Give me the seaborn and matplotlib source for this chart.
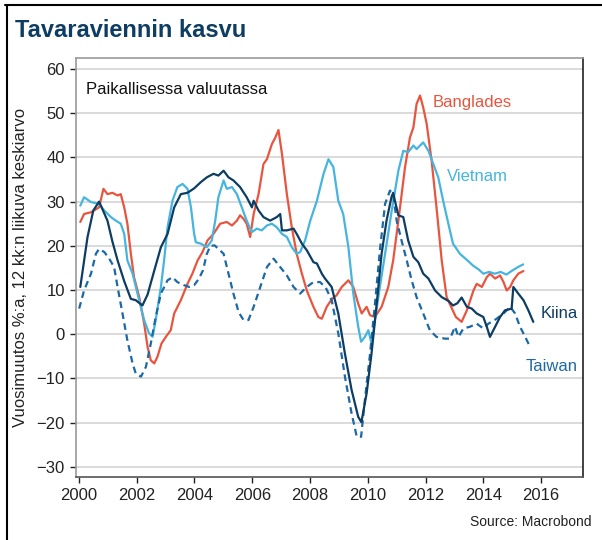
import pandas as pd
import matplotlib.pyplot as plt
import seaborn as sns
from matplotlib.lines import Line2D

# Values (decimal year, % y/y, 12m moving avg)
kiina_x = [2000.05, 2000.3, 2000.5, 2000.7, 2000.99, 2001.16, 2001.34, 2001.57, 2001.8, 2001.97,
           2002.2, 2002.38, 2002.61, 2002.84, 2003.07, 2003.3, 2003.53, 2003.76, 2003.99, 2004.22,
           2004.43, 2004.66, 2004.83, 2005.01, 2005.18, 2005.35, 2005.58, 2005.81, 2005.99, 2006.05,
           2006.22, 2006.39, 2006.62, 2006.85, 2006.97, 2007.03, 2007.2, 2007.43, 2007.54, 2007.72,
           2007.89, 2008.12, 2008.24, 2008.41, 2008.52, 2008.75, 2008.98, 2009.21, 2009.44, 2009.67,
           2009.78, 2009.96, 2010.13, 2010.31, 2010.48, 2010.65, 2010.82, 2010.88, 2010.94, 2011.06,
           2011.23, 2011.4, 2011.58, 2011.75, 2011.92, 2012.1, 2012.33, 2012.56, 2012.8, 2012.95,
           2013.1, 2013.25, 2013.43, 2013.6, 2013.77, 2014.0, 2014.12, 2014.23, 2014.41, 2014.58,
           2014.75, 2014.98, 2015.04, 2015.21, 2015.39, 2015.56, 2015.73]
kiina_y = [10.7, 22.0, 28.0, 30.0, 25.7, 21.0, 16.7, 12.0, 8.0, 7.7,
           6.5, 9.0, 14.4, 19.7, 22.7, 28.7, 31.7, 32.0, 33.0, 34.4,
           35.5, 36.3, 35.9, 37.0, 35.5, 34.8, 33.3, 31.0, 28.7, 30.2,
           28.0, 26.5, 25.7, 26.5, 27.2, 23.5, 23.5, 23.9, 22.7, 20.5,
           19.0, 16.3, 16.0, 13.7, 12.6, 10.7, 4.7, -4.4, -12.6, -18.7,
           -19.9, -13.4, -4.4, 6.9, 18.2, 25.7, 31.0, 32.0, 30.2, 26.9,
           26.5, 21.2, 17.5, 16.3, 13.7, 12.6, 9.9, 8.4, 7.5, 6.5,
           7.0, 8.3, 6.2, 5.8, 4.7, 3.9, 1.7, -0.6, 1.7, 3.9,
           5.4, 5.8, 10.7, 9.2, 7.7, 5.4, 2.8]

vietnam_x = [2000.05, 2000.18, 2000.42, 2000.7, 2000.88, 2001.11, 2001.28, 2001.45, 2001.57, 2001.68,
             2001.86, 2002.03, 2002.26, 2002.43, 2002.55, 2002.66, 2002.84, 2002.95, 2003.07, 2003.24,
             2003.41, 2003.59, 2003.76, 2003.88, 2003.99, 2004.05, 2004.22, 2004.43, 2004.6, 2004.72,
             2004.83, 2005.01, 2005.12, 2005.3, 2005.47, 2005.64, 2005.81, 2005.91, 2005.99, 2006.16,
             2006.33, 2006.51, 2006.68, 2006.85, 2007.03, 2007.2, 2007.37, 2007.54, 2007.66, 2007.83,
             2008.01, 2008.24, 2008.47, 2008.64, 2008.81, 2008.98, 2009.15, 2009.33, 2009.5, 2009.67,
             2009.77, 2009.9, 2010.02, 2010.13, 2010.25, 2010.42, 2010.6, 2010.83, 2011.06, 2011.23,
             2011.4, 2011.58, 2011.69, 2011.92, 2012.1, 2012.27, 2012.44, 2012.61, 2012.79, 2012.95,
             2013.19, 2013.45, 2013.65, 2013.85, 2014.0, 2014.2, 2014.4, 2014.6, 2014.8, 2015.0,
             2015.2, 2015.38]
vietnam_y = [29.1, 31.0, 29.9, 29.5, 28.0, 26.5, 25.7, 25.0, 22.7, 16.7,
             13.7, 9.2, 3.2, 0.2, -0.6, 3.2, 10.7, 16.7, 24.2, 30.2,
             33.3, 34.0, 32.9, 28.7, 22.7, 20.8, 20.5, 19.7, 21.2, 25.7,
             31.0, 34.8, 32.9, 33.3, 31.7, 28.7, 25.7, 24.2, 23.1, 23.9,
             23.5, 24.6, 25.0, 24.2, 22.7, 22.0, 19.7, 18.2, 18.6, 21.2,
             25.7, 30.2, 36.3, 39.6, 37.8, 30.2, 27.2, 19.7, 9.2, 1.7,
             -1.7, -0.6, 0.9, -2.1, 3.2, 10.7, 18.2, 28.0, 37.0, 41.5,
             41.2, 42.7, 41.9, 43.4, 41.5, 38.5, 35.5, 30.2, 25.0, 20.5,
             18.2, 16.7, 15.5, 14.6, 13.7, 14.1, 13.7, 14.1, 13.5, 14.4,
             15.2, 15.8]

banglades_x = [2000.05, 2000.18, 2000.42, 2000.7, 2000.85, 2000.99, 2001.16, 2001.34, 2001.45, 2001.57,
               2001.68, 2001.8, 2001.91, 2002.09, 2002.26, 2002.38, 2002.49, 2002.61, 2002.72, 2002.86,
               2003.01, 2003.18, 2003.3, 2003.53, 2003.76, 2003.93, 2004.11, 2004.28, 2004.45, 2004.66,
               2004.89, 2005.12, 2005.3, 2005.47, 2005.58, 2005.7, 2005.81, 2005.93, 2006.05, 2006.22,
               2006.39, 2006.51, 2006.68, 2006.8, 2006.91, 2007.03, 2007.2, 2007.37, 2007.54, 2007.72,
               2007.89, 2008.12, 2008.29, 2008.41, 2008.58, 2008.76, 2008.92, 2009.1, 2009.33, 2009.5,
               2009.67, 2009.79, 2009.96, 2010.08, 2010.25, 2010.48, 2010.71, 2010.88, 2011.06, 2011.29,
               2011.46, 2011.58, 2011.69, 2011.81, 2011.92, 2012.04, 2012.21, 2012.38, 2012.56, 2012.73,
               2012.9, 2013.05, 2013.25, 2013.43, 2013.66, 2013.77, 2013.95, 2014.12, 2014.23, 2014.41,
               2014.58, 2014.7, 2014.81, 2014.93, 2015.04, 2015.21, 2015.39]
banglades_y = [25.4, 27.2, 27.6, 28.7, 32.9, 31.7, 32.0, 31.4, 31.7, 28.7,
               25.0, 18.2, 12.9, 8.4, 2.4, -2.9, -5.9, -6.6, -5.1, -2.1,
               -0.6, 0.9, 4.7, 7.7, 11.4, 13.7, 16.7, 18.6, 21.2, 22.7,
               25.0, 25.4, 24.6, 25.7, 26.9, 26.1, 25.0, 22.0, 27.2, 31.7,
               38.5, 39.6, 43.0, 44.5, 46.2, 40.8, 31.7, 24.2, 18.2, 13.7,
               9.9, 6.2, 3.9, 3.5, 6.2, 8.0, 8.8, 10.7, 12.2, 10.7,
               6.9, 4.7, 6.2, 4.3, 3.9, 6.2, 10.7, 16.7, 25.7, 37.8,
               44.5, 46.8, 52.1, 54.0, 51.3, 47.6, 39.3, 28.7, 16.7, 8.4,
               6.0, 3.9, 2.8, 5.4, 9.9, 11.4, 10.7, 12.9, 13.7, 12.6,
               13.3, 11.8, 9.9, 10.7, 12.2, 13.7, 14.3]

taiwan_x = [2000.01, 2000.18, 2000.42, 2000.59, 2000.7, 2000.88, 2001.05, 2001.22, 2001.34, 2001.51,
            2001.68, 2001.86, 2001.97, 2002.15, 2002.32, 2002.49, 2002.66, 2002.84, 2003.07, 2003.24,
            2003.41, 2003.64, 2003.82, 2003.99, 2004.15, 2004.3, 2004.42, 2004.55, 2004.7, 2004.88,
            2005.01, 2005.18, 2005.35, 2005.53, 2005.7, 2005.87, 2006.05, 2006.28, 2006.51, 2006.74,
            2006.97, 2007.2, 2007.43, 2007.66, 2007.89, 2008.12, 2008.35, 2008.55, 2008.75, 2008.98,
            2009.21, 2009.44, 2009.62, 2009.77, 2009.9, 2010.08, 2010.25, 2010.42, 2010.6, 2010.77,
            2010.88, 2011.0, 2011.17, 2011.35, 2011.52, 2011.69, 2011.92, 2012.15, 2012.38, 2012.67,
            2012.85, 2013.02, 2013.14, 2013.31, 2013.54, 2013.77, 2014.0, 2014.18, 2014.46, 2014.7,
            2014.93, 2015.1, 2015.27, 2015.45, 2015.62]
taiwan_y = [5.8, 9.9, 13.7, 18.2, 19.3, 18.6, 17.1, 15.2, 10.7, 4.7,
            -1.4, -6.6, -8.9, -9.6, -7.4, -2.1, 3.9, 9.2, 12.2, 12.9,
            11.8, 11.1, 10.7, 11.1, 12.5, 14.5, 18.0, 20.0, 20.1, 19.0,
            18.2, 13.7, 9.2, 5.0, 3.2, 3.2, 6.2, 10.7, 15.2, 17.1,
            15.2, 13.3, 10.7, 9.2, 10.7, 11.8, 11.8, 10.5, 7.7, 0.2,
            -9.6, -17.9, -23.2, -23.2, -14.9, -4.4, 6.9, 19.0, 29.5, 32.5,
            31.7, 25.7, 21.2, 16.7, 12.2, 8.4, 4.7, 0.9, -0.6, -1.0,
            -1.0, 1.7, -0.6, 1.3, 1.7, 2.4, 1.3, 2.4, 3.5, 4.7,
            6.2, 4.7, 1.7, -0.6, -2.9]

year_ticks = [2000, 2002, 2004, 2006, 2008, 2010, 2012, 2014, 2016]
value_ticks = [-30, -20, -10, 0, 10, 20, 30, 40, 50, 60]

c_bang = '#e8553f'
c_viet = '#45b5df'
c_kiina = '#0d3d63'
c_taiwan = '#1b69a6'

sns.set_style("white")
plt.rcParams['font.family'] = ['Liberation Sans', 'DejaVu Sans']

fig = plt.figure(figsize=(6.02, 5.40), dpi=100)
ax = fig.add_axes([0.1262, 0.1167, 0.8422, 0.7759])

sns.lineplot(x=banglades_x, y=banglades_y, color=c_bang, lw=1.6, ax=ax)
sns.lineplot(x=vietnam_x, y=vietnam_y, color=c_viet, lw=1.6, ax=ax)
sns.lineplot(x=taiwan_x, y=taiwan_y, color=c_taiwan, lw=1.6, ax=ax)
ax.lines[-1].set_dashes([3, 2])
sns.lineplot(x=kiina_x, y=kiina_y, color=c_kiina, lw=1.6, ax=ax)

ax.set_xlim(1999.9, 2017.45)
ax.set_ylim(-32.3, 62.5)
ax.set_xticks(year_ticks)
ax.set_yticks(value_ticks)
ax.tick_params(labelsize=12, colors='#222222', length=4, width=1, direction='out',
               left=True, bottom=True, pad=4)
for t in ax.get_xticklines() + ax.get_yticklines():
    t.set_color('#888888')
ax.grid(axis='y', color='#d4d4d4', lw=1.2)
ax.grid(axis='x', visible=False)
ax.set_axisbelow(True)

ax.spines['left'].set_color('#9a9a9a')
ax.spines['top'].set_color('#9a9a9a')
ax.spines['right'].set_color('#222222')
ax.spines['bottom'].set_color('#555555')
for s in ax.spines.values():
    s.set_linewidth(1.2)

ax.set_xlabel('')
ax.set_ylabel('Vuosimuutos %:a, 12 kk:n liikuva keskiarvo', fontsize=12, color='#222222', labelpad=6)

ax.text(2000.25, 55.3, 'Paikallisessa valuutassa', fontsize=12, color='#111111', va='center')
ax.text(2012.26, 52.4, 'Banglades', fontsize=12, color=c_bang, va='center')
ax.text(2012.74, 35.7, 'Vietnam', fontsize=12, color=c_viet, va='center')
ax.text(2016.0, 4.7, 'Kiina', fontsize=12, color=c_kiina, va='center')
ax.text(2015.48, -7.4, 'Taiwan', fontsize=12, color=c_taiwan, va='center')

fig.text(0.025, 0.943, 'Tavaraviennin kasvu', fontsize=17, fontweight='bold', color='#0d3d63',
         va='center')
fig.text(0.983, 0.033, 'Source: Macrobond', fontsize=10, color='#222222', ha='right', va='center')

# frame lines at top and left like the original crop
fig.add_artist(Line2D([0.009, 1.0], [0.991, 0.991], color='black', lw=1.5, transform=fig.transFigure))
fig.add_artist(Line2D([0.011, 0.011], [0.0, 0.991], color='black', lw=1.5, transform=fig.transFigure))

fig.savefig('out.png', dpi=100)
